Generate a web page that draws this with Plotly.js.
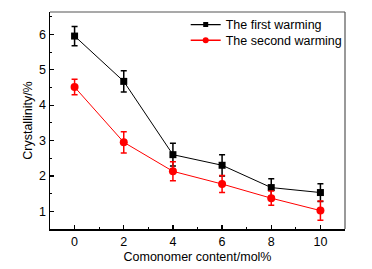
<!DOCTYPE html>
<html><head><meta charset="utf-8">
<script src="https://cdn.plot.ly/plotly-3.0.1.min.js"></script>
<style>html,body{margin:0;padding:0;background:#fff}</style>
</head><body><div id="chart" style="width:372px;height:269px"></div>
<script>
const content = [0, 2, 4, 6, 8, 10];
const firstWarming = [5.95, 4.67, 2.6, 2.3, 1.67, 1.53];
const firstErr = [0.27, 0.3, 0.32, 0.3, 0.25, 0.25];
const secondWarming = [4.51, 2.95, 2.13, 1.77, 1.37, 1.02];
const secondErr = [0.22, 0.3, 0.27, 0.24, 0.2, 0.27];
const seriesNames = ["The first warming", "The second warming"];
const xTicks = [0, 2, 4, 6, 8, 10];
const yTicks = [1, 2, 3, 4, 5, 6];

const font = {family: "Liberation Sans, Arial, sans-serif", size: 12.5, color: "#000"};
const colors = ["#000000", "#ff0000"];
const symbols = ["square", "circle"];
const traces = [
  {x: content, y: firstWarming, name: seriesNames[0], mode: "lines+markers", type: "scatter", showlegend: false,
   line: {color: colors[0], width: 1}, marker: {symbol: symbols[0], size: 7, color: colors[0]},
   error_y: {type: "data", array: firstErr, visible: true, color: colors[0], thickness: 1.5, width: 3}},
  {x: content, y: secondWarming, name: seriesNames[1], mode: "lines+markers", type: "scatter", showlegend: false,
   line: {color: colors[1], width: 1}, marker: {symbol: symbols[1], size: 8, color: colors[1]},
   error_y: {type: "data", array: secondErr, visible: true, color: colors[1], thickness: 1.5, width: 3}},
  // legend entries (smaller legend symbols as in the reference)
  {x: [null], y: [null], name: seriesNames[0], mode: "lines+markers", type: "scatter", legend: "legend",
   line: {color: colors[0], width: 1.3}, marker: {symbol: symbols[0], size: 5, color: colors[0]}},
  {x: [null], y: [null], name: seriesNames[1], mode: "lines+markers", type: "scatter", legend: "legend2",
   line: {color: colors[1], width: 1.3}, marker: {symbol: symbols[1], size: 6, color: colors[1]}}
];
const axisBase = {showline: true, linecolor: "#000", linewidth: 1.5, mirror: false, ticks: "inside",
  ticklen: 4, tickwidth: 1.2, tickcolor: "#000", showgrid: false, zeroline: false, tickfont: font};
const legendBase = {x: 0.46, xanchor: "left", yanchor: "top", bgcolor: "rgba(0,0,0,0)",
  font: font, itemsizing: "trace"};
const layout = {
  width: 372, height: 269, margin: {l: 50, r: 27, t: 11, b: 40},
  paper_bgcolor: "#fff", plot_bgcolor: "#fff", font: font,
  xaxis: Object.assign({}, axisBase, {range: [-1, 11], tickvals: xTicks,
    minor: {dtick: 1, tick0: 0, ticks: "inside", ticklen: 2, tickcolor: "#000", tickwidth: 1},
    title: {text: "Comonomer content/mol%", font: font, standoff: 4}}),
  yaxis: Object.assign({}, axisBase, {range: [0.5, 6.63], tickvals: yTicks,
    minor: {dtick: 0.5, tick0: 0, ticks: "inside", ticklen: 2, tickcolor: "#000", tickwidth: 1},
    title: {text: "Crystallinity/%", font: font, standoff: 3}}),
  shapes: [
    {type: "line", xref: "paper", yref: "paper", x0: 0, x1: 1, y0: 1, y1: 1, line: {color: "#555", width: 1.2}},
    {type: "line", xref: "paper", yref: "paper", x0: 1, x1: 1, y0: 0, y1: 1, line: {color: "#555", width: 1.2}}
  ],
  legend: Object.assign({}, legendBase, {y: 1.005}),
  legend2: Object.assign({}, legendBase, {y: 0.933}),
  showlegend: true
};
Plotly.newPlot("chart", traces, layout, {displayModeBar: false, staticPlot: true});
</script></body></html>
